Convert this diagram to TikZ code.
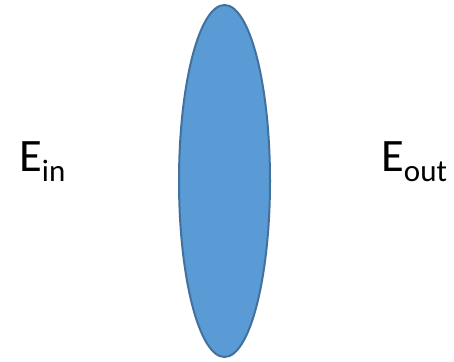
\documentclass[tikz,border=0pt]{standalone}
\usepackage{fontspec}
\usetikzlibrary{shapes.geometric}
\setmainfont{Carlito}
\definecolor{lensfill}{HTML}{5B9BD5}
\definecolor{lensline}{HTML}{41719C}
\newcommand{\subtxt}[1]{\raisebox{-10pt}{\fontsize{31}{31}\selectfont #1}}
\begin{document}
\begin{tikzpicture}[x=1pt,y=1pt,
  lbl/.style={inner sep=0pt,anchor=base west,font=\fontsize{46.5}{46.5}\selectfont},
  lens/.style={ellipse,draw=lensline,fill=lensfill,line width=2pt,minimum width=91pt,minimum height=352pt,inner sep=0pt}]
\useasboundingbox (0,0) rectangle (454,361);
\node[lens] (lens) at (224.5,180) {};
\node[lbl] (ein) at (19,189) {E\subtxt{in}};
\node[lbl] (eout) at (381,189) {E\subtxt{out}};
\end{tikzpicture}
\end{document}
